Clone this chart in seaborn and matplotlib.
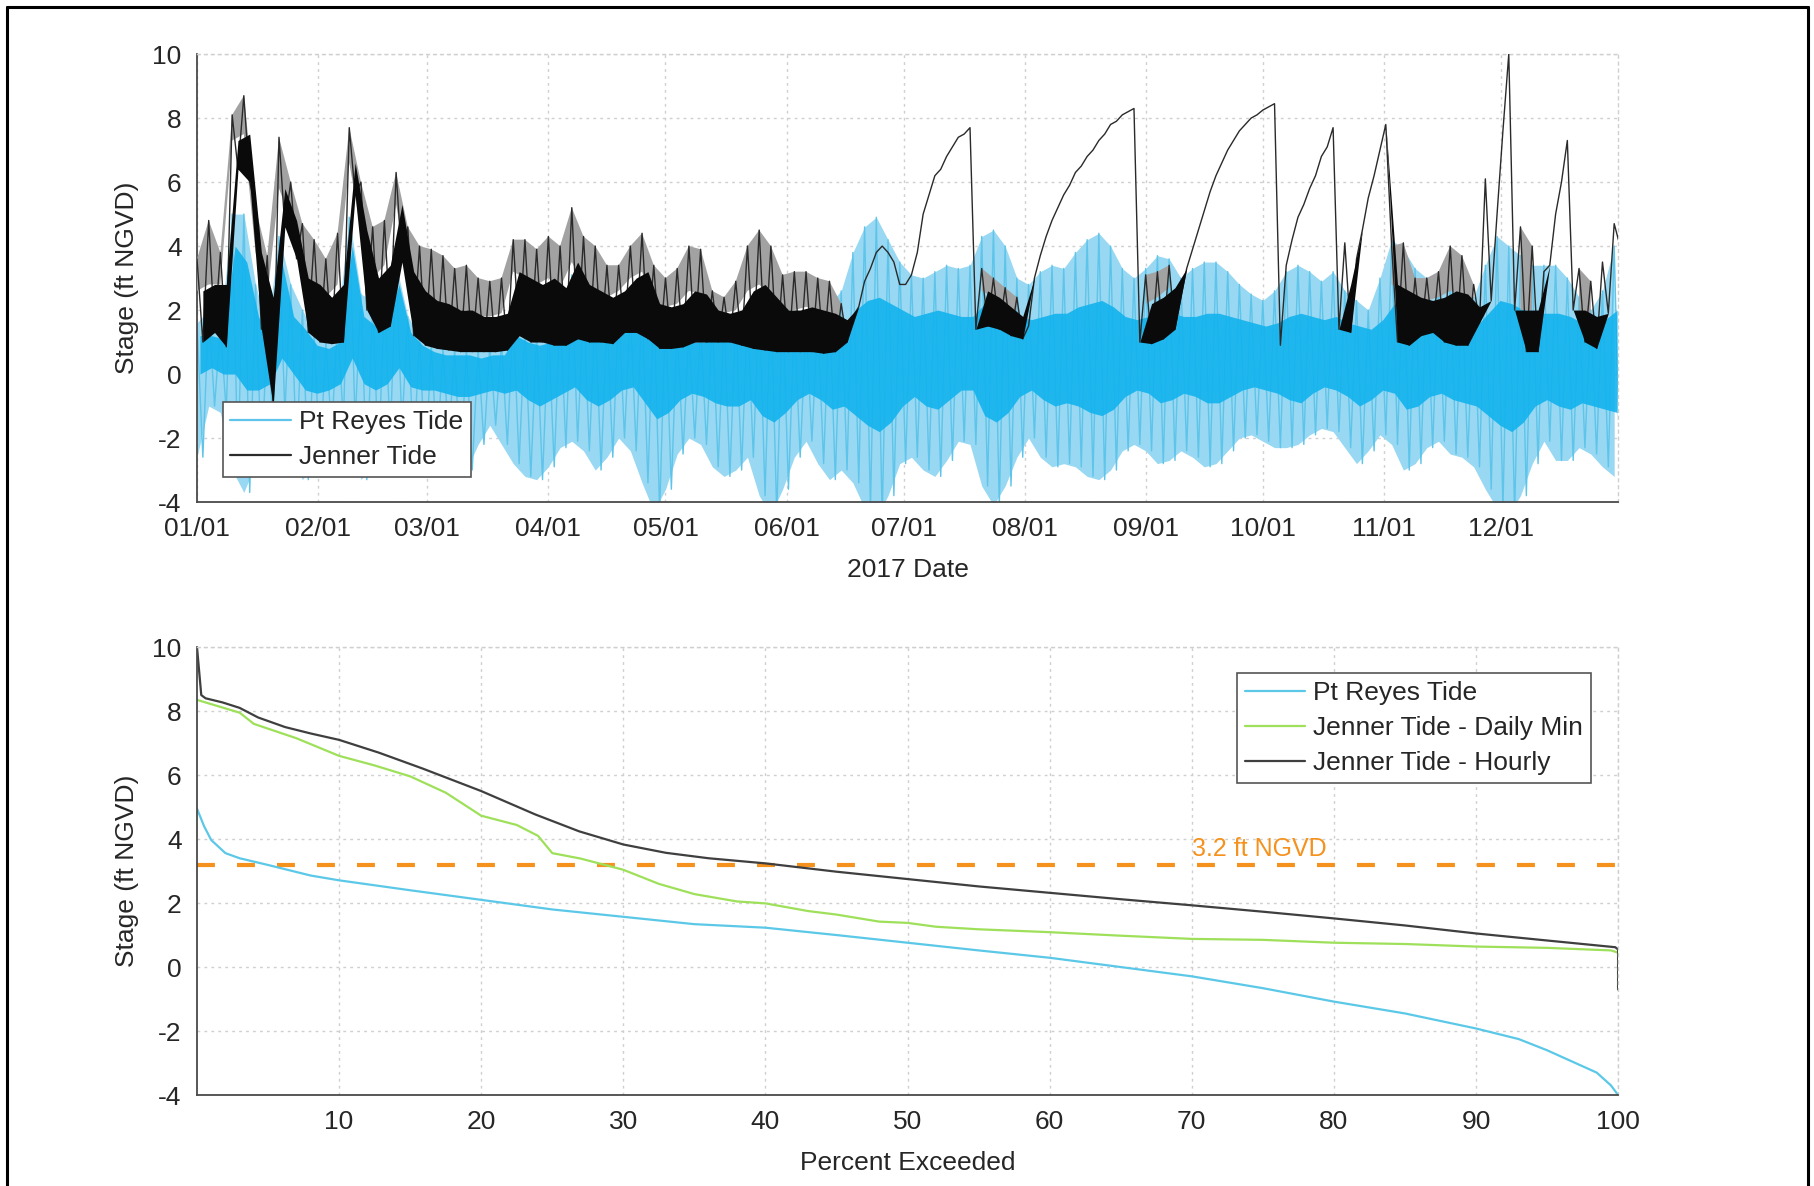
import numpy as np
import pandas as pd
import seaborn as sns
import matplotlib.pyplot as plt
import matplotlib.dates as mdates
from matplotlib.lines import Line2D


# ---- top panel: readings every 3 days (high stroke at the day, low stroke 1.5 days later)
sample_days = list(range(0, 364, 3))

jenner_high = [3.6, 4.8, 3.8, 8.1, 8.7, 5.2, 3.7, 7.4, 6.0, 4.7, 4.2, 3.6, 4.4, 7.7, 6.0, 4.6,
               4.8, 6.3, 4.6, 4.0, 3.9, 3.7, 3.3, 3.4, 3.0, 2.9, 3.0, 4.2, 4.2, 3.9, 4.3, 4.0,
               5.2, 4.3, 4.0, 3.4, 3.4, 4.0, 4.4, 3.4, 3.0, 3.3, 4.0, 3.9, 2.6, 2.4, 2.9, 4.0,
               4.5, 4.0, 3.1, 3.2, 3.2, 3.0, 2.9, 2.2, 1.8, 2.9, 3.8, 3.8, 2.8, 3.1, 5.0, 6.2,
               6.8, 7.4, 7.7, 3.3, 3.0, 2.7, 2.4, 1.5, 3.7, 4.8, 5.6, 6.3, 6.8, 7.3, 7.8, 8.1,
               8.3, 3.1, 3.2, 3.4, 2.4, 3.9, 5.1, 6.2, 7.0, 7.6, 8.0, 8.25, 8.45, 3.4, 4.9, 5.8,
               6.8, 7.7, 4.1, 3.6, 5.5, 7.0, 4.0, 4.1, 3.0, 3.0, 3.2, 4.0, 3.7, 2.8, 6.1, 5.0,
               10.0, 4.6, 4.0, 3.2, 5.0, 7.3, 3.3, 2.9, 3.5, 4.7]
jenner_low = [1.0, 1.3, 0.85, 6.4, 6.0, 1.4, -1.0, 4.6, 3.6, 1.3, 1.0, 0.95, 1.0, 5.6, 2.0, 1.3,
              1.5, 3.5, 1.2, 0.9, 0.8, 0.75, 0.7, 0.7, 0.7, 0.7, 0.75, 1.2, 1.0, 1.0, 0.9, 0.9,
              1.1, 1.0, 1.0, 0.95, 1.3, 1.3, 1.1, 0.8, 0.8, 0.85, 1.0, 1.0, 1.0, 1.0, 0.9, 0.8,
              0.75, 0.7, 0.7, 0.7, 0.7, 0.65, 0.7, 1.0, 2.1, 3.3, 4.0, 3.5, 2.8, 3.8, 5.6, 6.4,
              7.1, 7.5, 1.4, 1.5, 1.4, 1.2, 1.1, 3.0, 4.3, 5.2, 5.9, 6.5, 7.0, 7.5, 7.9, 8.2,
              1.0, 0.95, 1.1, 1.4, 3.3, 4.5, 5.7, 6.6, 7.3, 7.8, 8.1, 8.35, 0.9, 4.2, 5.3, 6.2,
              7.1, 1.4, 1.3, 4.5, 6.2, 7.8, 1.0, 0.9, 1.2, 1.3, 1.0, 0.9, 0.9, 1.6, 2.3, 7.6,
              2.0, 0.7, 0.7, 3.4, 6.0, 2.0, 1.0, 0.8, 1.9, 4.0]
jenner_core = [2.6, 2.8, 2.8, 7.3, 7.5, 3.8, 2.4, 5.8, 4.8, 3.0, 2.8, 2.4, 2.8, 6.6, 4.5, 3.0,
               3.4, 5.3, 3.2, 2.6, 2.3, 2.2, 2.0, 2.0, 1.8, 1.8, 1.9, 3.2, 3.0, 2.8, 3.0, 2.7,
               3.5, 2.8, 2.6, 2.4, 2.6, 3.0, 3.2, 2.2, 2.1, 2.2, 2.6, 2.5, 2.0, 1.9, 2.0, 2.6,
               2.8, 2.4, 2.0, 2.0, 2.1, 2.0, 1.9, 1.7, 2.1, 3.3, 4.0, 3.5, 2.8, 3.8, 5.6, 6.4,
               7.1, 7.5, 1.4, 2.6, 2.4, 2.1, 1.8, 3.0, 4.3, 5.2, 5.9, 6.5, 7.0, 7.5, 7.9, 8.2,
               1.0, 2.2, 2.4, 2.7, 3.3, 4.5, 5.7, 6.6, 7.3, 7.8, 8.1, 8.35, 0.9, 4.2, 5.3, 6.2,
               7.1, 1.4, 2.8, 4.5, 6.2, 7.8, 2.8, 2.6, 2.4, 2.3, 2.4, 2.6, 2.5, 2.1, 2.3, 7.6,
               2.0, 2.0, 2.0, 3.4, 6.0, 2.0, 2.0, 1.8, 1.9, 4.0]

reyes_high = [1.6, 2.0, 1.5, 5.0, 5.0, 2.8, 1.4, 4.3, 2.8, 2.0, 1.3, 1.0, 1.6, 4.9, 2.5, 2.3,
              2.5, 3.4, 1.8, 1.2, 0.9, 0.8, 0.8, 0.8, 0.8, 0.9, 1.0, 1.8, 1.5, 1.3, 1.5, 2.0,
              3.1, 2.2, 2.0, 1.8, 2.1, 2.0, 2.2, 2.4, 2.0, 1.6, 1.4, 1.5, 1.7, 1.8, 1.8, 2.0,
              2.4, 2.6, 2.3, 1.8, 1.6, 1.8, 2.2, 2.6, 3.8, 4.6, 4.9, 4.2, 3.5, 3.1, 3.0, 3.2,
              3.4, 3.3, 3.4, 4.3, 4.5, 4.0, 3.0, 2.8, 3.2, 3.4, 3.3, 3.8, 4.2, 4.4, 4.0, 3.3,
              3.0, 3.3, 3.7, 3.6, 3.0, 3.3, 3.5, 3.5, 3.2, 2.8, 2.5, 2.3, 2.6, 3.2, 3.4, 3.2,
              2.9, 3.2, 2.6, 2.3, 2.0, 3.0, 4.2, 3.9, 3.3, 3.0, 2.8, 2.9, 2.6, 2.4, 3.4, 4.3,
              4.0, 3.7, 3.4, 3.4, 3.4, 3.0, 2.4, 2.0, 2.6, 4.0]
reyes_core_high = [1.2, 1.2, 1.1, 4.0, 3.5, 1.8, 1.0, 3.5, 1.8, 1.4, 0.9, 0.8, 1.0, 4.0, 1.8, 1.5,
                   1.6, 2.8, 1.3, 0.9, 0.7, 0.6, 0.6, 0.6, 0.5, 0.6, 0.6, 1.2, 1.0, 0.9, 1.0, 1.2,
                   1.8, 1.5, 1.3, 1.2, 1.4, 1.3, 1.4, 1.5, 1.3, 1.1, 1.0, 1.0, 1.1, 1.2, 1.2, 1.3,
                   1.5, 1.6, 1.4, 1.2, 1.0, 1.1, 1.3, 1.5, 2.0, 2.3, 2.4, 2.2, 2.0, 1.8, 1.9, 2.0,
                   1.9, 1.8, 1.8, 2.2, 2.3, 2.1, 1.8, 1.7, 1.8, 1.9, 1.9, 2.1, 2.2, 2.3, 2.1, 1.8,
                   1.7, 1.8, 2.0, 1.9, 1.8, 1.8, 1.9, 1.9, 1.8, 1.7, 1.6, 1.5, 1.6, 1.8, 1.9, 1.8,
                   1.7, 1.8, 1.6, 1.5, 1.4, 1.7, 2.2, 2.1, 1.9, 1.8, 1.7, 1.7, 1.6, 1.5, 1.9, 2.3,
                   2.2, 2.0, 1.9, 1.9, 1.9, 1.8, 1.6, 1.5, 1.7, 2.0]
reyes_core_low = [0.0, 0.2, 0.0, 0.0, -0.5, -0.5, -0.3, 0.5, 0.0, -0.5, -0.6, -0.5, -0.3, 0.5, -0.3, -0.5,
                  -0.3, 0.2, -0.4, -0.5, -0.5, -0.6, -0.7, -0.7, -0.6, -0.5, -0.6, -0.5, -0.8, -1.0, -0.8, -0.6,
                  -0.4, -0.8, -1.0, -0.8, -0.5, -0.4, -0.9, -1.4, -1.2, -0.8, -0.6, -0.7, -0.9, -1.0, -1.0, -0.8,
                  -1.3, -1.5, -1.2, -0.8, -0.6, -0.8, -1.1, -1.0, -1.3, -1.6, -1.8, -1.5, -1.0, -0.7, -1.0, -1.1,
                  -0.8, -0.5, -0.5, -1.3, -1.5, -1.2, -0.7, -0.5, -0.8, -1.0, -0.9, -1.0, -1.2, -1.3, -1.1, -0.7,
                  -0.5, -0.6, -0.9, -0.8, -0.6, -0.7, -0.9, -0.9, -0.7, -0.5, -0.4, -0.5, -0.6, -0.8, -0.9, -0.6,
                  -0.4, -0.5, -0.7, -1.0, -0.8, -0.5, -0.6, -1.1, -1.0, -0.7, -0.6, -0.8, -0.9, -1.0, -1.3, -1.6,
                  -1.8, -1.5, -1.0, -0.8, -1.0, -1.1, -0.9, -1.0, -1.1, -1.2]
reyes_low = [-2.6, -1.0, -1.2, -3.0, -3.7, -2.8, -1.6, -1.2, -2.5, -3.3, -2.8, -1.8, -1.5, -1.5, -3.3, -2.8,
             -2.0, -1.6, -2.6, -3.0, -2.5, -2.0, -3.1, -3.0, -2.2, -1.6, -2.2, -2.8, -3.2, -3.3, -2.9, -2.3,
             -2.1, -2.4, -3.0, -2.6, -2.0, -2.4, -3.4, -4.3, -3.6, -2.5, -2.0, -2.2, -2.9, -3.2, -3.0, -2.6,
             -3.8, -4.4, -3.6, -2.6, -2.1, -2.8, -3.3, -3.0, -3.4, -4.2, -4.5, -3.8, -2.8, -2.6, -3.0, -3.2,
             -2.7, -2.1, -2.2, -3.5, -4.1, -3.5, -2.6, -2.0, -2.6, -2.9, -2.8, -2.9, -3.2, -3.3, -3.0, -2.4,
             -2.2, -2.4, -2.8, -2.7, -2.4, -2.6, -2.9, -2.8, -2.4, -2.0, -1.9, -2.1, -2.3, -2.3, -2.2, -1.9,
             -1.7, -1.8, -2.3, -2.8, -2.4, -1.9, -2.2, -3.0, -2.8, -2.3, -2.1, -2.5, -2.6, -2.9, -3.6, -4.2,
             -4.4, -3.8, -2.8, -2.1, -2.7, -2.7, -2.3, -2.5, -2.9, -3.2]

# ---- bottom panel: exceedance curves
reyes_pct = [0, 0.5, 1, 2, 3, 5, 8, 10, 15, 20, 25, 30, 35, 40, 45, 50, 55, 60, 65, 70,
             75, 80, 85, 90, 93, 95, 97, 98.5, 99.5, 100]
reyes_stage = [4.95, 4.4, 3.97, 3.56, 3.4, 3.19, 2.86, 2.71, 2.4, 2.1, 1.8, 1.57, 1.34, 1.23, 1.0,
               0.76, 0.52, 0.29, 0.0, -0.29, -0.66, -1.08, -1.45, -1.92, -2.25, -2.6, -3.0, -3.3,
               -3.7, -4.0]

daily_pct = [0, 1.5, 3, 4, 7, 10, 12.5, 15, 17.5, 20, 22.5, 24, 25, 27, 30, 32.5, 35, 38, 40,
             43, 45, 48, 50, 52, 55, 60, 65, 70, 75, 80, 85, 90, 95, 99.5, 100, 100]
daily_stage = [8.35, 8.15, 7.95, 7.6, 7.15, 6.6, 6.3, 5.96, 5.45, 4.73, 4.44, 4.1, 3.56, 3.39,
               3.04, 2.6, 2.28, 2.05, 1.99, 1.75, 1.64, 1.42, 1.38, 1.26, 1.18, 1.09, 0.98, 0.88,
               0.85, 0.76, 0.72, 0.64, 0.6, 0.52, 0.45, -0.7]

hourly_pct = [0, 0.3, 0.6, 1.8, 3.0, 4.3, 6.2, 8.0, 10, 12.8, 15.9, 20, 23.8, 26.9, 30, 33, 36,
              40, 45, 50, 55, 60, 65, 70, 75, 80, 85, 90, 95, 99.8, 100, 100]
hourly_stage = [10.0, 8.5, 8.4, 8.27, 8.1, 7.8, 7.5, 7.3, 7.1, 6.7, 6.2, 5.5, 4.77, 4.24, 3.83,
                3.57, 3.4, 3.24, 2.98, 2.75, 2.52, 2.32, 2.12, 1.93, 1.73, 1.52, 1.3, 1.05, 0.83,
                0.62, 0.55, -0.7]

threshold = 3.2

REYES_LIGHT = '#5EC4EA'
REYES_FILL = '#98D8F2'
REYES_CORE = '#12B3EE'
JENNER_LINE = '#2a2a2a'
JENNER_FILL = '#a2a2a2'
JENNER_CORE = '#0a0a0a'
AX_COLOR = '#4a4a4a'
TXT_COLOR = '#262626'
GRID_COLOR = '#cfcfcf'

sns.set_style('white')
plt.rcParams['font.family'] = ['Liberation Sans', 'DejaVu Sans']
plt.rcParams['axes.unicode_minus'] = False

t0 = pd.Timestamp('2017-01-01')
hi_t = t0 + pd.to_timedelta(sample_days, unit='D')
lo_t = hi_t + pd.Timedelta(hours=36)
hi_num = mdates.date2num(hi_t.to_pydatetime())
lo_num = mdates.date2num(lo_t.to_pydatetime())


def zigzag(high, low):
    x = np.empty(2 * len(high), dtype='datetime64[ns]')
    y = np.empty(2 * len(high))
    x[0::2] = hi_t.values
    x[1::2] = lo_t.values
    y[0::2] = high
    y[1::2] = low
    return pd.DataFrame({'date': x, 'stage': y})


def style_axes(ax):
    ax.set_ylim(-4, 10)
    ax.set_yticks(range(-4, 11, 2))
    ax.grid(True, color=GRID_COLOR, linestyle=(0, (2, 3)), linewidth=1.0)
    for s in ['left', 'bottom']:
        ax.spines[s].set_color(AX_COLOR)
        ax.spines[s].set_linewidth(1.3)
    for s in ['top', 'right']:
        ax.spines[s].set_color(GRID_COLOR)
        ax.spines[s].set_linestyle((0, (2, 3)))
        ax.spines[s].set_linewidth(1.0)
    ax.tick_params(direction='in', length=8, width=1.2, color=AX_COLOR,
                   labelsize=19, labelcolor=TXT_COLOR, pad=11, top=False, right=False)
    ax.set_ylabel('Stage (ft NGVD)', fontsize=19, color=TXT_COLOR, labelpad=10)


def style_legend(leg):
    leg.get_frame().set_linewidth(1.2)
    leg.set_zorder(10)


legend_kw = dict(fontsize=19, frameon=True, fancybox=False, framealpha=1, edgecolor='#555555',
                 handlelength=2.3, handletextpad=0.3, labelspacing=0.42, borderpad=0.3,
                 borderaxespad=0)

fig = plt.figure(figsize=(18.14, 11.86), dpi=100)
ax1 = fig.add_axes([0.1086, 0.5767, 0.7834, 0.3777])
ax2 = fig.add_axes([0.1086, 0.0767, 0.7834, 0.3777])

# top panel: Pt Reyes (light stripes + dense core), then Jenner on top
ax1.fill_between(hi_num, reyes_low, reyes_high, color=REYES_FILL, linewidth=0, zorder=1.8)
sns.lineplot(data=zigzag(reyes_high, reyes_low), x='date', y='stage', ax=ax1,
             color=REYES_LIGHT, linewidth=1.0, estimator=None, sort=False, zorder=2)
ax1.fill_between(hi_num + 0.75, reyes_core_low, reyes_core_high, color=REYES_CORE,
                 linewidth=0, alpha=0.9, zorder=2.5)

j_open = np.array(jenner_core) > np.array(jenner_low)
ax1.fill_between(hi_num, jenner_core, jenner_high, where=j_open, color=JENNER_FILL,
                 linewidth=0, zorder=2.8)
sns.lineplot(data=zigzag(jenner_high, jenner_low), x='date', y='stage', ax=ax1,
             color=JENNER_LINE, linewidth=1.0, estimator=None, sort=False, zorder=3)
ax1.fill_between(lo_num, jenner_low, jenner_core, color=JENNER_CORE, linewidth=0,
                 zorder=3.5)

style_axes(ax1)
ax1.set_xlim(t0, pd.Timestamp('2017-12-31'))
ax1.xaxis.set_major_locator(mdates.MonthLocator())
ax1.xaxis.set_major_formatter(mdates.DateFormatter('%m/%d'))
ax1.set_xlabel('2017 Date', fontsize=19, color=TXT_COLOR, labelpad=12)
handles = [Line2D([], [], color=REYES_LIGHT, lw=1.6), Line2D([], [], color=JENNER_LINE, lw=1.6)]
leg1 = ax1.legend(handles, ['Pt Reyes Tide', 'Jenner Tide'], loc='lower left',
                  bbox_to_anchor=(0.018, 0.056), **legend_kw)
style_legend(leg1)

# bottom panel
sns.lineplot(x=reyes_pct, y=reyes_stage, ax=ax2, color='#5CC8E8', linewidth=1.6,
             estimator=None, sort=False, label='Pt Reyes Tide')
sns.lineplot(x=daily_pct, y=daily_stage, ax=ax2, color='#9EE05A', linewidth=1.6,
             estimator=None, sort=False, label='Jenner Tide - Daily Min')
sns.lineplot(x=hourly_pct, y=hourly_stage, ax=ax2, color='#3f3f3f', linewidth=1.6,
             estimator=None, sort=False, label='Jenner Tide - Hourly')
ax2.axhline(threshold, color='#F5921E', linewidth=3.0, dashes=(4.3, 5.3), zorder=1.5)
ax2.text(70, threshold + 0.1, '3.2 ft NGVD', color='#F5921E', fontsize=18,
         ha='left', va='bottom')

style_axes(ax2)
ax2.set_xlim(0, 100)
ax2.set_xticks(range(10, 101, 10))
ax2.set_xlabel('Percent Exceeded', fontsize=19, color=TXT_COLOR, labelpad=12)
leg2 = ax2.legend(loc='upper right', bbox_to_anchor=(0.981, 0.942), **legend_kw)
style_legend(leg2)

# outer frame of the original figure
fx0, fx1, fy1 = 7 / 1814, 1808 / 1814, 1 - 7 / 1186
for xs, ys in [([fx0, fx0], [0, fy1]), ([fx0, fx1], [fy1, fy1]), ([fx1, fx1], [fy1, 0])]:
    fig.add_artist(Line2D(xs, ys, transform=fig.transFigure, color='black', lw=2.2))

fig.savefig('out.png', dpi=100)
